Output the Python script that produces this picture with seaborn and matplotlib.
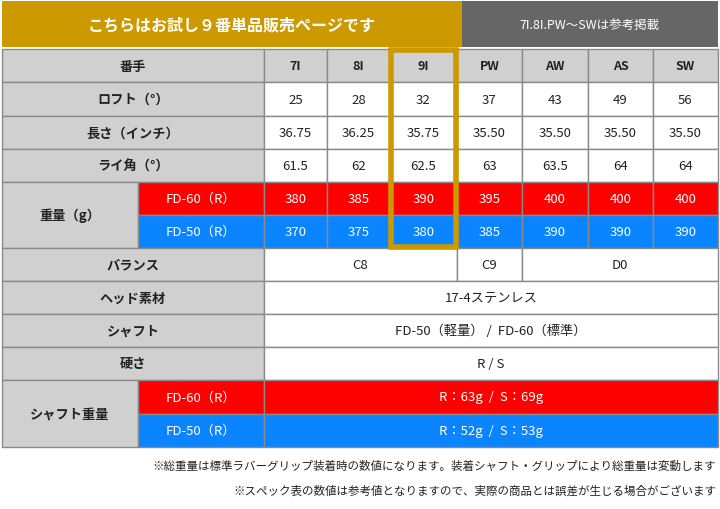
import matplotlib
matplotlib.use("Agg")
import matplotlib.pyplot as plt
from matplotlib.patches import Rectangle
import seaborn as sns

sns.set_theme(style="white")
plt.rcParams["font.family"] = "Noto Sans CJK JP"

# データ
clubs = ["7I", "8I", "9I", "PW", "AW", "AS", "SW"]
loft = ["25", "28", "32", "37", "43", "49", "56"]
length = ["36.75", "36.25", "35.75", "35.50", "35.50", "35.50", "35.50"]
lie = ["61.5", "62", "62.5", "63", "63.5", "64", "64"]
weight_fd60 = ["380", "385", "390", "395", "400", "400", "400"]
weight_fd50 = ["370", "375", "380", "385", "390", "390", "390"]
balance = [("C8", 0, 3), ("C9", 3, 4), ("D0", 4, 7)]
head = "17-4ステンレス"
shaft = "FD-50（軽量） /  FD-60（標準）"
flex = "R / S"
shaft_w60 = "R：63g  /  S：69g"
shaft_w50 = "R：52g  /  S：53g"
notes = ["※総重量は標準ラバーグリップ装着時の数値になります。装着シャフト・グリップにより総重量は変動します",
         "※スペック表の数値は参考値となりますので、実際の商品とは誤差が生じる場合がございます"]

GOLD = "#CC9900"
DARK = "#666666"
LGRAY = "#D0D0D0"
RED = "#FF0000"
BLUE = "#0A84FF"
LINE = "#8A8A8A"

col_x = [264, 327, 390, 457, 522, 588, 653, 718]
rows_y = [50, 83, 117, 150, 183, 216, 249, 282, 315, 348, 381, 415, 448]

fig = plt.figure(figsize=(7.2, 5.1), dpi=100)
ax = fig.add_axes([0, 0, 1, 1])
ax.set_xlim(0, 720)
ax.set_ylim(510, 0)
ax.axis("off")


def cell(x0, y0, x1, y1, text="", fc="white", color="#222222", bold=False, size=9.5):
    ax.add_patch(Rectangle((x0, y0), x1 - x0, y1 - y0, facecolor=fc, edgecolor=LINE, lw=1))
    if text:
        ax.text((x0 + x1) / 2, (y0 + y1) / 2, text, ha="center", va="center", color=color,
                fontsize=size, fontweight="bold" if bold else "normal")


# タイトル帯
ax.add_patch(Rectangle((2, 2), 460, 46, facecolor=GOLD, edgecolor="none"))
ax.text(232, 25, "こちらはお試し９番単品販売ページです", ha="center", va="center",
        color="white", fontsize=11.5, fontweight="bold")
ax.add_patch(Rectangle((462, 2), 256, 46, facecolor=DARK, edgecolor="none"))
ax.text(590, 25, "7I.8I.PW～SWは参考掲載", ha="center", va="center", color="white", fontsize=9)

# 上段
labels = ["番手", "ロフト（°）", "長さ（インチ）", "ライ角（°）"]
values = [clubs, loft, length, lie]
for r in range(4):
    y0, y1 = rows_y[r], rows_y[r + 1]
    cell(2, y0, col_x[0], y1, labels[r], fc=LGRAY, bold=True)
    for c in range(7):
        fc = LGRAY if r == 0 else "white"
        cell(col_x[c], y0, col_x[c + 1], y1, values[r][c], fc=fc, bold=(r == 0),
             size=9.5 if r else 9)

# 重量
cell(2, rows_y[4], 138, rows_y[6], "重量（g）", fc=LGRAY, bold=True)
for i, (name, vals, fc) in enumerate([("FD-60（R）", weight_fd60, RED), ("FD-50（R）", weight_fd50, BLUE)]):
    y0, y1 = rows_y[4 + i], rows_y[5 + i]
    cell(138, y0, col_x[0], y1, name, fc=fc, color="white")
    for c in range(7):
        cell(col_x[c], y0, col_x[c + 1], y1, vals[c], fc=fc, color="white")

# バランス
cell(2, rows_y[6], col_x[0], rows_y[7], "バランス", fc=LGRAY, bold=True)
for text, a, b in balance:
    cell(col_x[a], rows_y[6], col_x[b], rows_y[7], text)

# 単一行
for r, (lab, val) in zip([7, 8, 9], [("ヘッド素材", head), ("シャフト", shaft), ("硬さ", flex)]):
    cell(2, rows_y[r], col_x[0], rows_y[r + 1], lab, fc=LGRAY, bold=True)
    cell(col_x[0], rows_y[r], col_x[-1], rows_y[r + 1], val)

# シャフト重量
cell(2, rows_y[10], 138, rows_y[12], "シャフト重量", fc=LGRAY, bold=True)
for i, (name, val, fc) in enumerate([("FD-60（R）", shaft_w60, RED), ("FD-50（R）", shaft_w50, BLUE)]):
    y0, y1 = rows_y[10 + i], rows_y[11 + i]
    cell(138, y0, col_x[0], y1, name, fc=fc, color="white")
    cell(col_x[0], y0, col_x[-1], y1, val, fc=fc, color="white")

# 9I 強調枠
ax.add_patch(Rectangle((col_x[2] + 1, rows_y[0] + 1), col_x[3] - col_x[2] - 2, rows_y[6] - rows_y[0] - 2,
                       facecolor="none", edgecolor=GOLD, lw=4, zorder=5))

# 注記
for i, t in enumerate(notes):
    ax.text(716, 466 + i * 25, t, ha="right", va="center", fontsize=8.3, color="#222222")

fig.savefig("out.png", dpi=100)
